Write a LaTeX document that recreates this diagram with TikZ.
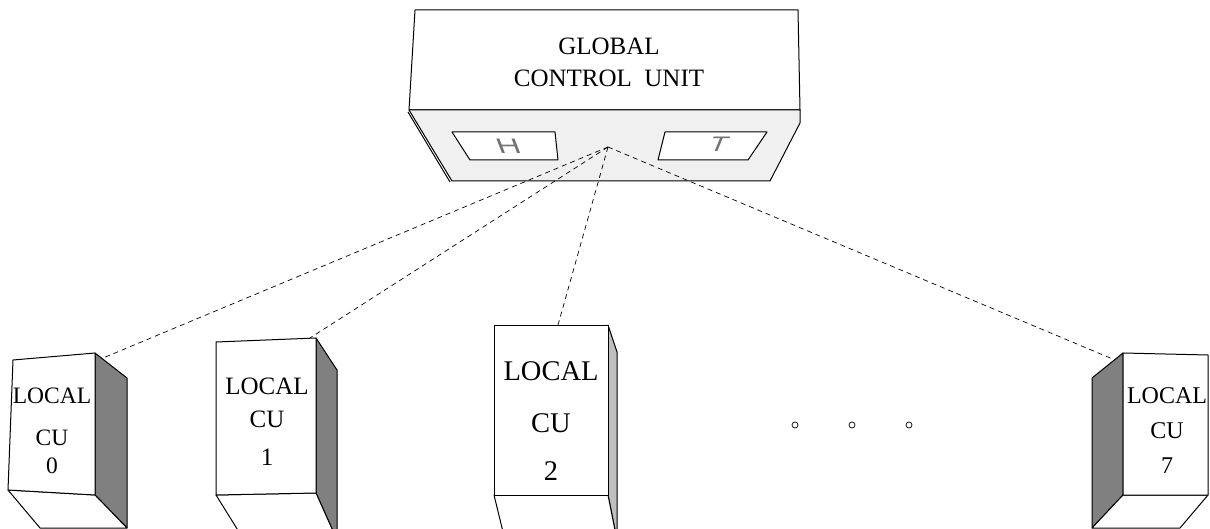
\documentclass[tikz,border=0pt]{standalone}
\usepackage{fontspec}
\setmainfont{Liberation Serif}
\newfontfamily\hfont{Liberation Sans}
\begin{document}
\begin{tikzpicture}[x=1pt,y=-1pt,line join=round,
  face/.style={draw=black,fill=white,line width=1pt},
  panel/.style={draw=black,fill=black!6,line width=1pt},
  darkside/.style={draw=black,fill=black!50,line width=1pt},
  lightside/.style={draw=black,fill=black!25,line width=1pt},
  link/.style={draw=black,dash pattern=on 5pt off 4pt,line width=0.7pt},
  lbl/.style={anchor=base,inner sep=0pt},
  win/.style={lbl,font={\hfont\fontsize{21}{21}\selectfont},text=black!55},
  dot/.style={circle,draw=black,line width=0.7pt,minimum size=6pt,inner sep=0pt}]
\useasboundingbox (0,0) rectangle (1210,529);
\clip (0,0) rectangle (1210,529);
% ---------- global control unit ----------
\path[face] (415,10) -- (798,10) -- (800,110) -- (409,110) -- cycle;
\path[panel] (409,110) -- (800,110) -- (800,123) -- (770,181) -- (452,181) -- cycle;
\draw[line width=1pt] (408,112) -- (450,182);
\path[face] (452,132) -- (555,132) -- (558,160) -- (470,160) -- cycle;
\path[face] (665,132) -- (767,132) -- (748,160) -- (658,160) -- cycle;
\node[win,xscale=1.55,xslant=-0.25] (hl) at (511,154) {H};
\node[win,xscale=1.4,xslant=0.3] (tl) at (716,152) {T};
\node[lbl,font={\fontsize{25}{25}\selectfont}] (g1) at (609,55) {GLOBAL};
\node[lbl,font={\fontsize{25}{25}\selectfont}] (g2) at (609,87) {CONTROL\ \ UNIT};
\coordinate (hub) at (608,147);
% ---------- local CU 0 ----------
\path[darkside] (95,353) -- (127,378) -- (127,528) -- (95,495) -- cycle;
\path[face] (8,490) -- (95,495) -- (127,528) -- (40,528) -- cycle;
\path[face] (13,360) -- (95,353) -- (95,495) -- (8,490) -- cycle;
\node[lbl,font={\fontsize{23.5}{23.5}\selectfont}] (l0a) at (52,403) {LOCAL};
\node[lbl,font={\fontsize{23.5}{23.5}\selectfont}] (l0b) at (52,445) {CU};
\node[lbl,font={\fontsize{23.5}{23.5}\selectfont}] (l0c) at (52,473) {0};
\coordinate (c0) at (103,358);
% ---------- local CU 1 ----------
\path[darkside] (316,338) -- (337,370) -- (337,540) -- (316,493) -- cycle;
\path[face] (216,495) -- (316,493) -- (337,540) -- (244,540) -- cycle;
\path[face] (216,342) -- (316,338) -- (316,493) -- (216,495) -- cycle;
\node[lbl,font={\fontsize{25}{25}\selectfont}] (l1a) at (267,394) {LOCAL};
\node[lbl,font={\fontsize{25}{25}\selectfont}] (l1b) at (267,427) {CU};
\node[lbl,font={\fontsize{25}{25}\selectfont}] (l1c) at (267,465) {1};
\coordinate (c1) at (310,338);
% ---------- local CU 2 ----------
\path[lightside] (608,325) -- (617,352) -- (617,540) -- (608,495) -- cycle;
\path[face] (494,495) -- (608,495) -- (617,540) -- (505,540) -- cycle;
\path[face] (494,325) -- (608,325) -- (608,495) -- (494,495) -- cycle;
\node[lbl,font={\fontsize{28.5}{28.5}\selectfont}] (l2a) at (551,380) {LOCAL};
\node[lbl,font={\fontsize{28.5}{28.5}\selectfont}] (l2b) at (551,432) {CU};
\node[lbl,font={\fontsize{28.5}{28.5}\selectfont}] (l2c) at (551,480) {2};
\coordinate (c2) at (558,325);
% ---------- local CU 7 ----------
\path[darkside] (1123,353) -- (1092,378) -- (1092,528) -- (1123,495) -- cycle;
\path[face] (1123,495) -- (1208,495) -- (1180,528) -- (1092,528) -- cycle;
\path[face] (1123,353) -- (1208,355) -- (1208,495) -- (1123,495) -- cycle;
\node[lbl,font={\fontsize{24}{24}\selectfont}] (l7a) at (1167,403) {LOCAL};
\node[lbl,font={\fontsize{24}{24}\selectfont}] (l7b) at (1167,438) {CU};
\node[lbl,font={\fontsize{24}{24}\selectfont}] (l7c) at (1167,473) {7};
\coordinate (c7) at (1115,360);
% ---------- dots ----------
\node[dot] (d1) at (795,425) {};
\node[dot] (d2) at (852,425) {};
\node[dot] (d3) at (909,425) {};
% ---------- links ----------
\draw[link] (hub) -- (c0);
\draw[link] (hub) -- (c1);
\draw[link] (hub) -- (c2);
\draw[link] (hub) -- (c7);
\end{tikzpicture}
\end{document}
